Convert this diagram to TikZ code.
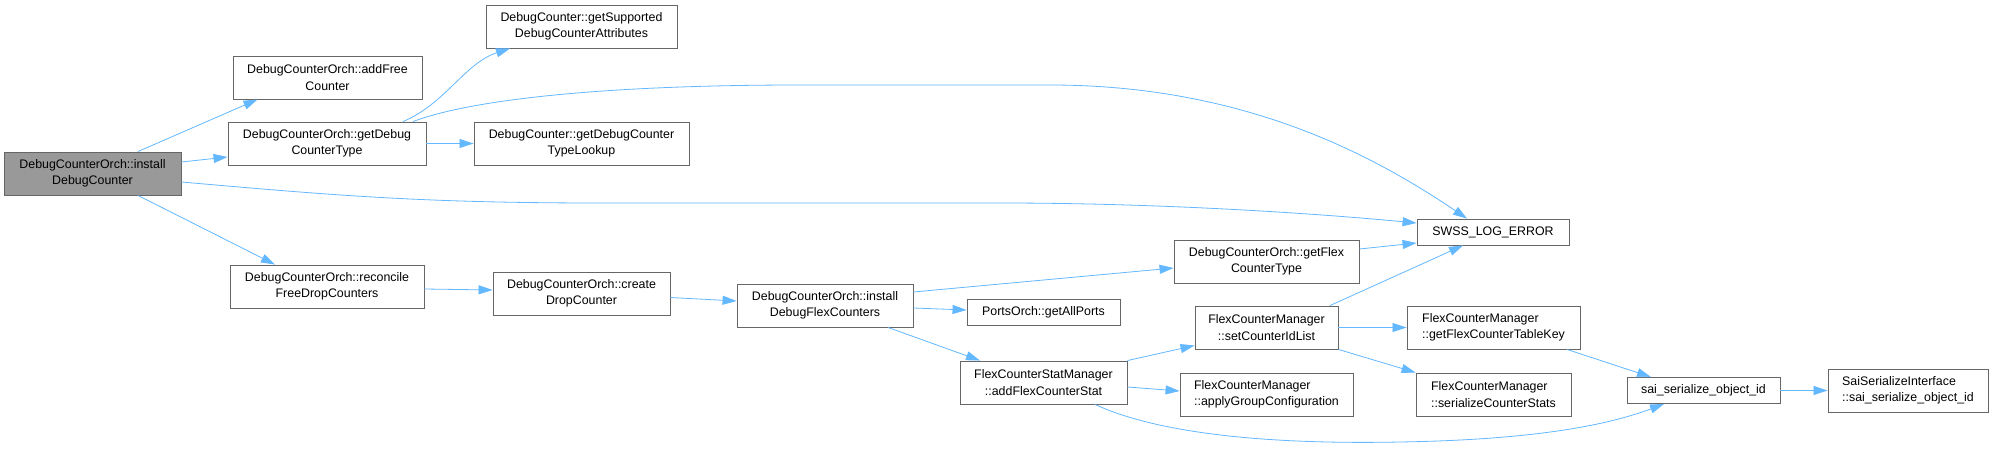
\documentclass[tikz,border=0pt]{standalone}
\usepackage{fontspec}
\setmainfont{Liberation Sans}
\usepackage{tikz}
\usetikzlibrary{arrows.meta}
\definecolor{edgeblue}{HTML}{63B8FF}
\definecolor{frame}{HTML}{666666}
\definecolor{hilite}{HTML}{999999}
\tikzset{
  fn/.style={draw=frame, fill=white, line width=0.9pt, align=center, inner sep=0pt,
             minimum height=43pt, font=\fontsize{12.4}{16.3}\selectfont},
  fnl/.style={fn, align=left},
  short/.style={minimum height=26pt},
  calls/.style={-{Triangle[length=14pt,width=9pt]}, line width=0.8pt, edgeblue},
}

\begin{document}
\begin{tikzpicture}[x=1pt, y=-1pt]
    \path[fill=white, use as bounding box] (0,0) rectangle (1994,455);
    \node[fn, fill=hilite, minimum width=177pt] (a) at (92.5,173.5) {DebugCounterOrch::install\\DebugCounter};
    \node[fn, minimum width=189pt] (b) at (327.5,77.5) {DebugCounterOrch::addFree\\Counter};
    \node[fn, minimum width=198pt] (c) at (327,143.5) {DebugCounterOrch::getDebug\\CounterType};
    \node[fn, minimum width=191pt] (d) at (581.5,26.5) {DebugCounter::getSupported\\DebugCounterAttributes};
    \node[fn, minimum width=215pt] (e) at (581.5,143.5) {DebugCounter::getDebugCounter\\TypeLookup};
    \node[fn, minimum width=194pt] (f) at (327,286.5) {DebugCounterOrch::reconcile\\FreeDropCounters};
    \node[fn, minimum width=177pt] (g) at (581.5,293.5) {DebugCounterOrch::create\\DropCounter};
    \node[fn, minimum width=176pt] (h) at (825,305.5) {DebugCounterOrch::install\\DebugFlexCounters};
    \node[fn, short, minimum width=153pt] (i) at (1043.5,312) {PortsOrch::getAllPorts};
    \node[fn, minimum width=167pt] (j) at (1043.5,382.5) {FlexCounterStatManager\\::addFlexCounterStat};
    \node[fn, minimum width=185pt] (k) at (1266.5,261.5) {DebugCounterOrch::getFlex\\CounterType};
    \node[fn, minimum width=143pt] (l) at (1266.5,327.5) {FlexCounterManager\\::setCounterIdList};
    \node[fnl, minimum width=173pt] (m) at (1266.5,394.5) {FlexCounterManager\\::applyGroupConfiguration};
    \node[fn, short, minimum width=152pt] (n) at (1493,232) {SWSS\_LOG\_ERROR};
    \node[fnl, minimum width=173pt] (o) at (1493.5,327.5) {FlexCounterManager\\::getFlexCounterTableKey};
    \node[fnl, minimum width=155pt] (p) at (1493.5,394.5) {FlexCounterManager\\::serializeCounterStats};
    \node[fn, short, minimum width=153pt] (q) at (1703.5,390.5) {sai\_serialize\_object\_id};
    \node[fnl, minimum width=160pt] (r) at (1908,390.5) {SaiSerializeInterface\\::sai\_serialize\_object\_id};

    \draw[calls] ([xshift=45.5pt]a.north) -- ([xshift=-70pt]b.south);
    \draw[calls] ([yshift=11.5pt]a.east) -- ([yshift=-13.5pt]c.west);
    \draw[calls] ([yshift=-8.5pt]a.east) .. controls (330,195) and (420,203) .. (600,203)
      -- (1000,203) .. controls (1150,203) and (1300,212) .. ([yshift=9pt]n.west);
    \draw[calls] ([xshift=76pt]c.north) .. controls (445,104) and (465,63) .. ([xshift=-71.5pt]d.south);
    \draw[calls] ([xshift=86pt]c.north) .. controls (470,100) and (600,85) .. (800,85)
      -- (1050,85) .. controls (1250,85) and (1380,160) .. ([xshift=-26pt]n.north);
    \draw[calls] (c.east) -- (e.west);
    \draw[calls] ([xshift=45.5pt]a.south) -- ([xshift=-52pt]f.north);
    \draw[calls] ([yshift=-2.5pt]f.east) -- ([yshift=3.5pt]g.west);
    \draw[calls] ([yshift=-4pt]g.east) -- ([yshift=4.5pt]h.west);
    \draw[calls] ([yshift=13.5pt]h.east) -- ([yshift=-6.5pt]k.west);
    \draw[calls] ([yshift=-2.5pt]h.east) -- ([yshift=2pt]i.west);
    \draw[calls] ([xshift=63pt]h.south) -- ([xshift=-63.5pt]j.north);
    \draw[calls] ([yshift=12.5pt]k.east) -- ([yshift=-11pt]n.west);
    \draw[calls] ([xshift=63.5pt]l.north) -- ([xshift=-30pt]n.south);
    \draw[calls] (l.east) -- (o.west);
    \draw[calls] (l.south east) -- (p.north west);
    \draw[calls] (j.north east) -- ([yshift=-18pt]l.west);
    \draw[calls] ([yshift=-4.5pt]j.east) -- ([yshift=3.5pt]m.west);
    \draw[calls] ([xshift=51.5pt]j.south) .. controls (1150,430) and (1250,445) .. (1400,442)
      .. controls (1520,440) and (1600,428) .. ([xshift=-39.5pt]q.south);
    \draw[calls] ([xshift=73.5pt]o.south) -- ([xshift=-52.5pt]q.north);
    \draw[calls] (q.east) -- (r.west);
  \end{tikzpicture}
\end{document}
